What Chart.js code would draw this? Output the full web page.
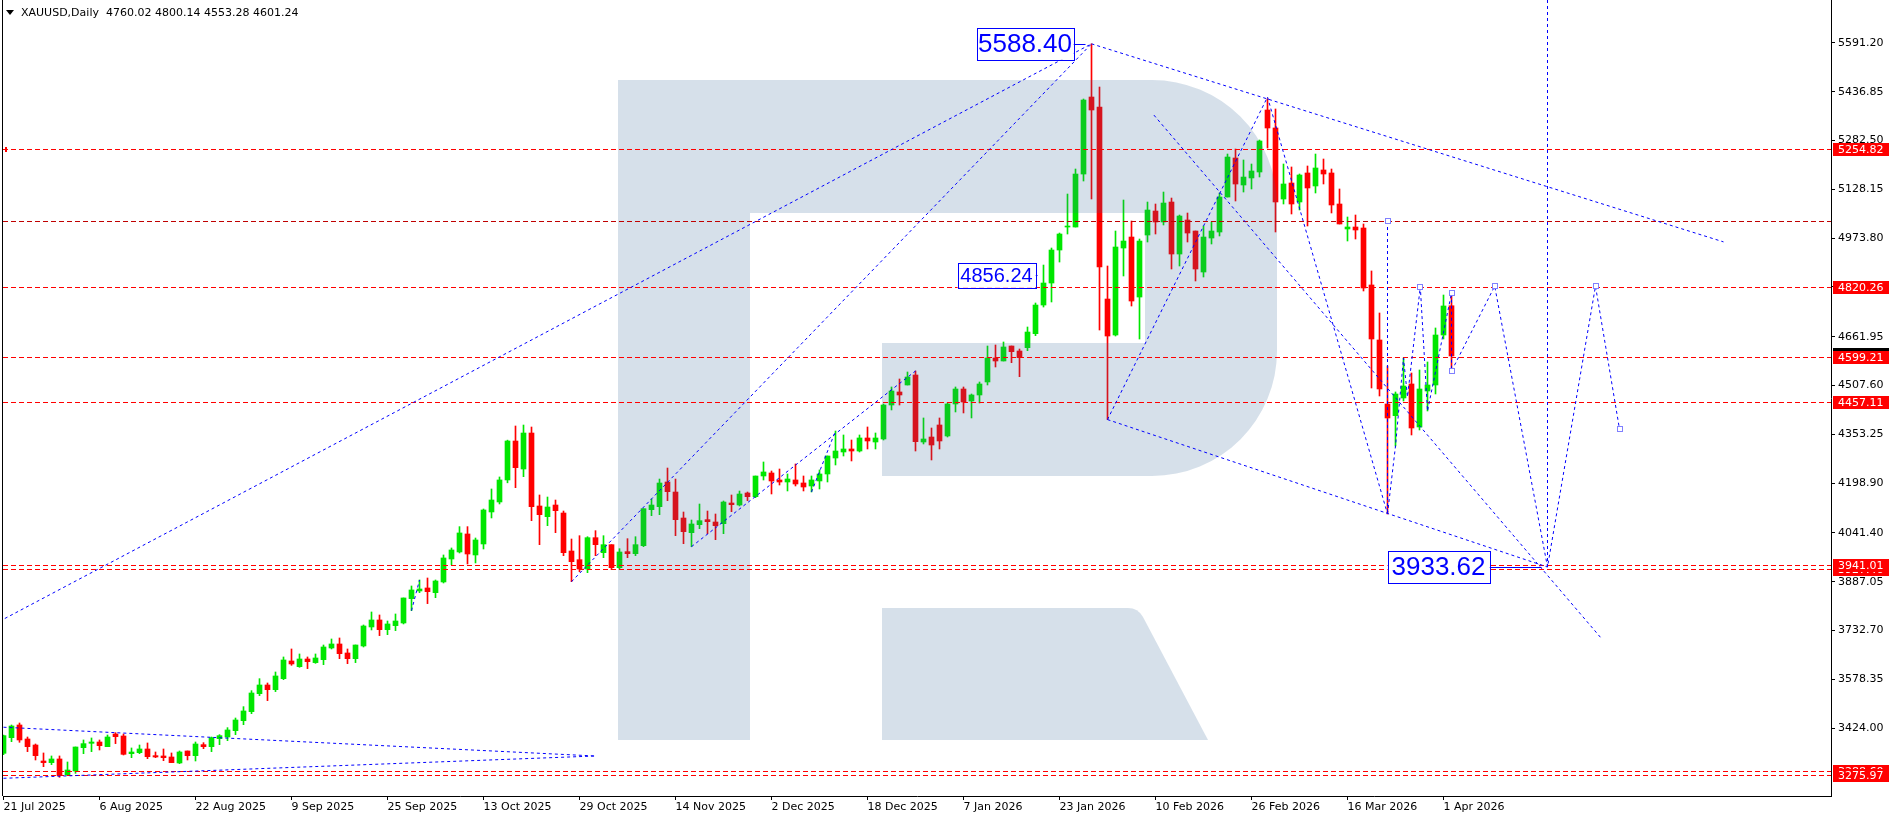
<!DOCTYPE html>
<html><head><meta charset="utf-8">
<script src="https://cdn.jsdelivr.net/npm/chart.js@4.4.1/dist/chart.umd.min.js"></script>
<style>html,body{margin:0;padding:0;background:#fff;overflow:hidden}</style>
</head><body>
<canvas id="c" width="1895" height="820"></canvas>
<script>
// ---------- DATA ----------
const symbolTitle = 'XAUUSD,Daily  4760.02 4800.14 4553.28 4601.24';
const opens = [3344.5,3394.0,3434.1,3389.8,3370.8,3320.2,3315.0,3326.6,3276.0,3288.6,3362.4,3376.1,3380.3,3365.6,3405.6,3399.3,3343.4,3346.6,3358.2,3337.1,3336.1,3332.9,3313.9,3351.9,3337.1,3371.9,3365.6,3390.9,3396.1,3416.2,3447.8,3476.3,3533.2,3560.6,3545.8,3580.6,3636.5,3618.6,3642.8,3631.3,3640.7,3677.6,3690.3,3661.8,3643.9,3684.0,3744.1,3766.2,3735.6,3748.3,3756.7,3833.7,3857.9,3867.4,3852.6,3886.4,3959.1,3981.3,4038.2,3971.8,4006.6,4107.8,4139.4,4209.0,4332.2,4243.7,4357.5,4126.7,4092.9,4129.8,4104.5,3984.3,3956.9,3927.4,4026.5,3979.1,4004.4,3931.6,3982.3,3975.9,4001.2,4115.1,4124.6,4202.6,4170.9,4088.7,4042.3,4067.6,4083.5,4076.1,4070.8,4136.2,4129.8,4167.8,4156.2,4221.6,4231.1,4209.0,4202.6,4209.0,4199.5,4190.0,4205.8,4227.9,4278.5,4297.5,4307.0,4300.6,4341.8,4329.1,4338.6,4446.1,4487.3,4509.4,4541.0,4329.1,4344.9,4382.9,4348.1,4449.3,4496.7,4458.8,4477.8,4518.9,4594.8,4585.3,4632.7,4616.9,4627.5,4671.7,4762.3,4831.9,4936.3,5009.0,5009.0,5176.6,5420.2,5388.5,4781.3,4667.5,4942.6,4977.4,4787.6,4983.7,5059.6,5024.9,5088.1,4923.6,5031.2,4996.4,4866.7,4974.2,4993.2,5103.9,5227.3,5141.9,5164.1,5183.0,5379.1,5322.2,5097.6,5148.2,5088.2,5179.9,5138.8,5189.4,5179.9,5081.8,5002.8,5009.1,5005.9,4825.7,4651.7,4449.3,4412.4,4468.3,4512.6,4376.6,4490.4,4509.4,4667.5,4760.02];
const highs = [3402.0,3434.1,3440.4,3396.1,3374.0,3345.6,3336.1,3336.1,3317.1,3364.5,3386.7,3393.0,3386.7,3402.5,3409.8,3405.6,3361.4,3370.8,3377.2,3348.7,3358.2,3345.6,3351.9,3351.9,3380.3,3378.2,3396.1,3403.5,3425.7,3456.2,3492.1,3542.7,3580.6,3566.9,3601.7,3649.2,3674.5,3658.7,3649.2,3658.7,3687.1,3706.1,3709.3,3674.5,3687.1,3750.4,3791.5,3782.0,3763.0,3785.2,3835.8,3873.7,3892.7,3899.0,3892.7,3971.8,3993.9,4061.4,4061.4,4025.5,4117.2,4180.5,4218.5,4335.0,4379.7,4382.8,4376.5,4161.5,4155.1,4145.6,4110.8,4022.3,4032.8,4029.6,4048.7,4032.8,4004.4,3991.7,4023.4,4029.6,4118.2,4148.8,4212.0,4246.8,4212.0,4107.7,4082.4,4133.0,4110.8,4101.4,4142.5,4161.5,4174.1,4170.9,4221.5,4265.9,4237.4,4243.7,4228.0,4259.6,4221.6,4221.6,4240.6,4284.8,4363.9,4351.3,4335.4,4351.3,4376.6,4357.6,4449.3,4503.1,4528.4,4550.5,4553.7,4405.1,4373.4,4405.1,4452.5,4503.1,4503.1,4480.9,4518.9,4632.7,4635.9,4645.4,4632.7,4623.2,4692.8,4768.7,4888.8,4942.6,4990.0,5113.4,5192.5,5413.9,5588.4,5451.8,4885.7,4996.4,5094.4,5028.0,4971.1,5088.1,5081.8,5119.7,5100.7,5047.0,5053.3,4996.4,5012.2,5024.9,5116.5,5239.9,5255.7,5221.0,5208.3,5284.2,5415.0,5382.3,5208.3,5198.9,5176.7,5202.0,5239.9,5224.1,5192.5,5129.3,5040.7,5047.0,5018.6,4870.0,4737.1,4569.5,4487.3,4594.8,4547.3,4556.8,4582.2,4689.7,4794.0,4800.14];
const lows = [3340.0,3381.4,3379.3,3349.8,3323.4,3302.3,3308.7,3268.6,3273.9,3281.2,3343.4,3349.8,3355.0,3365.6,3375.1,3339.2,3330.8,3343.4,3327.6,3330.8,3321.3,3315.0,3311.8,3323.4,3320.2,3359.2,3349.8,3371.9,3384.5,3403.5,3435.1,3469.9,3526.9,3511.1,3539.6,3577.5,3622.8,3616.5,3612.3,3629.1,3624.9,3674.5,3643.9,3628.1,3631.3,3680.8,3734.6,3716.7,3719.8,3732.5,3753.6,3795.7,3852.6,3817.9,3836.8,3883.2,3941.2,3978.1,3943.3,3946.5,3990.7,4088.8,4133.1,4200.0,4184.6,4219.4,4080.3,4004.4,4064.5,4042.3,3969.6,3887.4,3919.0,3915.8,3969.6,3963.3,3925.3,3927.4,3963.3,3969.6,3998.1,4096.1,4099.3,4143.5,4032.8,4007.5,3998.1,4055.0,4039.1,4020.2,4039.1,4108.7,4126.7,4143.5,4153.0,4208.9,4164.7,4193.1,4174.2,4190.0,4174.2,4171.0,4180.5,4202.6,4256.4,4284.8,4269.1,4297.5,4307.0,4307.0,4335.4,4430.4,4446.1,4509.4,4300.6,4322.8,4272.2,4307.0,4344.9,4424.0,4420.9,4405.1,4452.5,4509.4,4566.3,4585.3,4580.0,4535.7,4617.9,4665.4,4756.0,4771.9,4898.3,4986.9,5009.0,5154.5,5097.6,4683.3,4400.0,4664.3,4854.1,4759.2,4654.8,4961.6,4986.9,5015.4,4876.2,4885.7,4961.6,4838.3,4850.9,4955.3,4980.6,5103.9,5091.3,5119.7,5129.3,5167.2,5258.9,4993.3,5081.8,5050.2,5062.9,5012.3,5116.6,5145.1,5053.4,5018.6,4964.8,4971.1,4806.7,4499.9,4474.6,4101.4,4316.5,4458.8,4351.3,4367.1,4427.2,4481.0,4654.9,4553.28];
const closes = [3400.4,3430.9,3386.7,3365.6,3337.1,3315.0,3326.6,3273.9,3291.8,3364.5,3375.1,3380.3,3368.7,3396.1,3397.2,3341.3,3348.7,3358.2,3333.9,3332.9,3330.8,3315.0,3348.7,3337.1,3374.0,3365.6,3394.0,3400.4,3418.3,3449.9,3478.4,3535.3,3560.6,3545.8,3589.1,3639.7,3627.1,3642.8,3634.4,3646.0,3680.8,3690.3,3659.7,3643.9,3687.1,3747.2,3766.2,3735.6,3753.6,3763.0,3835.8,3861.1,3864.2,3855.8,3889.5,3962.3,3987.6,4041.4,3974.9,4019.2,4114.1,4145.7,4209.0,4332.3,4247.9,4357.5,4124.6,4099.3,4123.5,4111.9,3979.1,3950.6,3927.4,4026.5,4004.4,4004.4,3931.6,3981.2,3975.9,4004.4,4118.2,4129.8,4199.4,4172.0,4083.5,4045.5,4069.8,4080.3,4077.2,4064.5,4139.3,4130.9,4164.6,4156.2,4221.5,4234.3,4205.8,4202.6,4212.1,4196.3,4186.8,4209.0,4227.9,4284.8,4300.6,4307.0,4300.6,4341.8,4332.3,4341.8,4446.1,4490.4,4477.8,4534.7,4330.2,4338.6,4319.6,4332.3,4449.3,4496.7,4455.6,4477.8,4512.6,4594.8,4585.3,4629.6,4614.8,4595.8,4676.9,4762.3,4831.9,4936.3,4986.9,5012.2,5176.6,5410.7,5379.1,4882.5,4664.3,4945.8,4964.7,4775.0,4964.7,5062.8,5024.9,5084.9,4923.6,5043.8,4990.0,4876.2,4977.4,4996.4,5103.9,5230.4,5145.0,5167.1,5186.2,5281.1,5322.2,5088.2,5145.1,5081.8,5173.5,5132.5,5195.7,5176.7,5078.7,5018.6,5009.1,4999.6,4816.2,4654.9,4496.8,4405.1,4480.9,4506.2,4373.4,4496.7,4509.4,4667.5,4759.3,4601.24];

const xTickBars = [0,12,24,36,48,60,72,84,96,108,120,132,144,156,168,180];
const xTickLabels = ['21 Jul 2025','6 Aug 2025','22 Aug 2025','9 Sep 2025','25 Sep 2025','13 Oct 2025','29 Oct 2025','14 Nov 2025','2 Dec 2025','18 Dec 2025','7 Jan 2026','23 Jan 2026','10 Feb 2026','26 Feb 2026','16 Mar 2026','1 Apr 2026'];
const yTickValues = [5591.20,5436.85,5282.50,5128.15,4973.80,4819.45,4661.95,4507.60,4353.25,4198.90,4041.40,3887.05,3732.70,3578.35,3424.00];

// horizontal levels
const levelPrices = [5254.82,5028.00,4820.26,4599.21,4457.11,3941.01,3927.46,3288.60,3275.97];
const levelLabelled = [true,false,true,true,true,true,true,true,true];
const bidPrice = 4601.24;

// trend lines [bar1, price1, bar2, price2]
const trendLines = [
  [-0.5,3762,136,5588.40],
  [136,5588.40,215,4962],
  [71,3887.4,136,5588.40],
  [86,3998.1,114,4553.7],
  [101,4171.0,104,4363.9],
  [51,3795.7,52,3892.7],
  [0,3427,74,3336],
  [0,3265.5,74,3336],
  [138,4400.0,158,5420],
  [138,4400.0,193,3933.62],
  [158,5420,173,4101.4],
  [143.8,5363,199.7,3709],
  [173,5028,173,4101.4],
  [193,5727,193,3933.62]
];
// forecast zig-zag [bar, price]
const forecastPath = [[173,4101.4],[174,4316.5],[175,4594.8],[175.5,4472],[177.1,4820],[178,4427.2],[181,4800.1],[181,4553.3],[186.4,4822],[193,3933.62],[199,4822],[202,4370]];
const markerPoints = [[173,5028],[177.1,4820],[186.4,4822],[199,4822],[202,4370],[181,4800.1],[181,4553.3]];
// value tags
const tagBars = [136,130,193];
const tagPrices = [5588.40,4856.24,3933.62];
const tagTexts = ['5588.40','4856.24','3933.62'];

// ---------- STYLE ----------
const GREEN = '#00e600', RED = '#ff0000', BLUE = '#0000ff';
const FONT = '"DejaVu Sans", sans-serif';
const candleColors = closes.map((c,i)=> c>=opens[i] ? GREEN : RED);

const wickData = highs.map((h,i)=>({x:i, y:[lows[i], h]}));
const bodyData = opens.map((o,i)=>({x:i, y:[Math.min(o,closes[i]), Math.max(o,closes[i])]}));

function line(ctx, x1,y1,x2,y2){ctx.beginPath();ctx.moveTo(x1,y1);ctx.lineTo(x2,y2);ctx.stroke();}

const watermark = {
  id:'watermark',
  afterDatasetsDraw(chart){
    const ctx = chart.ctx; ctx.save();
    ctx.fillStyle = 'rgba(50,100,150,0.2)';
    const r = 125;
    ctx.beginPath();
    ctx.moveTo(618,80); ctx.lineTo(1277-r,80);
    ctx.arcTo(1277,80,1277,80+r,r);
    ctx.lineTo(1277,476-r);
    ctx.arcTo(1277,476,1277-r,476,r);
    ctx.lineTo(882,476); ctx.lineTo(882,343); ctx.lineTo(1145,343); ctx.lineTo(1145,213);
    ctx.lineTo(750,213); ctx.lineTo(750,740); ctx.lineTo(618,740); ctx.closePath();
    ctx.fill();
    ctx.beginPath();
    ctx.moveTo(882,608); ctx.lineTo(1128,608); ctx.quadraticCurveTo(1138,608,1143,617);
    ctx.lineTo(1208,740); ctx.lineTo(882,740); ctx.closePath(); ctx.fill();
    ctx.restore();
  }
};

const overlay = {
  id:'overlay',
  afterDatasetsDraw(chart){
    const {ctx, chartArea:a, scales:{x,y}} = chart;
    ctx.save();
    ctx.beginPath(); ctx.rect(a.left, a.top, a.right-a.left, a.bottom-a.top); ctx.clip();
    ctx.lineWidth = 1; ctx.setLineDash([5,3]);
    levelPrices.forEach((p,i)=>{
      const yy = Math.round(y.getPixelForValue(p)) + 0.5;
      ctx.strokeStyle = i===1 ? '#c00000' : RED;
      line(ctx, a.left, yy, a.right, yy);
    });
    ctx.setLineDash([]); ctx.fillStyle = RED;
    ctx.fillRect(5, Math.round(y.getPixelForValue(levelPrices[0]))-2, 2, 5);
    ctx.strokeStyle = BLUE; ctx.setLineDash([3,3]);
    trendLines.forEach(t=>{
      line(ctx, x.getPixelForValue(t[0]), y.getPixelForValue(t[1]), x.getPixelForValue(t[2]), y.getPixelForValue(t[3]));
    });
    ctx.beginPath();
    forecastPath.forEach((p,i)=>{
      const px = x.getPixelForValue(p[0]), py = y.getPixelForValue(p[1]);
      if(i===0) ctx.moveTo(px,py); else ctx.lineTo(px,py);
    });
    ctx.stroke();
    ctx.setLineDash([1,1]);
    markerPoints.forEach(p=>{
      const px = Math.round(x.getPixelForValue(p[0])), py = Math.round(y.getPixelForValue(p[1]));
      ctx.fillStyle = '#fff'; ctx.fillRect(px-3, py-3, 6, 6);
      ctx.strokeRect(px-2.5, py-2.5, 5, 5);
    });
    ctx.setLineDash([]);
    // value tags
    const sizes = [26,20,26];
    const widths = [97,78,102];
    const heights = [32,25,32];
    const gaps = [18,8,58];
    tagBars.forEach((b,i)=>{
      const px = x.getPixelForValue(b), py = y.getPixelForValue(tagPrices[i]);
      const right = px - gaps[i], w = widths[i], h = heights[i];
      const top = py - h/2;
      ctx.strokeStyle = BLUE; ctx.lineWidth = 1;
      line(ctx, right, Math.round(py)+0.5, px - 6, Math.round(py)+0.5);
      ctx.fillStyle = '#fff';
      ctx.fillRect(right-w, top, w, h);
      ctx.strokeRect(Math.round(right-w)+0.5, Math.round(top)+0.5, w, h);
      ctx.fillStyle = BLUE; ctx.font = sizes[i]+'px "Liberation Sans", sans-serif';
      ctx.textAlign = 'center'; ctx.textBaseline = 'middle';
      ctx.fillText(tagTexts[i], right - w/2, py + 1);
    });
    ctx.restore();

    // axis price labels
    ctx.save();
    ctx.font = '11px ' + FONT; ctx.textBaseline = 'middle'; ctx.textAlign = 'left';
    const by = y.getPixelForValue(bidPrice);
    ctx.fillStyle = '#000'; ctx.fillRect(a.right+2, Math.round(by)-8, 56, 15);
    const order = [0,2,4,3,6,5,7,8];
    order.forEach(i=>{
      if(!levelLabelled[i]) return;
      const yy = Math.round(y.getPixelForValue(levelPrices[i]));
      ctx.fillStyle = RED; ctx.fillRect(a.right+2, yy-6, 56, 13);
      ctx.fillStyle = '#fff'; ctx.fillText(levelPrices[i].toFixed(2), a.right+7, yy+1);
    });
    ctx.strokeStyle = '#000'; ctx.lineWidth = 1;
    line(ctx, 2.5, 0, 2.5, a.bottom);
    ctx.fillStyle = '#000';
    ctx.beginPath(); ctx.moveTo(6,10); ctx.lineTo(14,10); ctx.lineTo(10,15); ctx.closePath(); ctx.fill();
    ctx.fillText(symbolTitle, 21, 13);
    ctx.restore();
  }
};

new Chart(document.getElementById('c'), {
  type:'bar',
  data:{datasets:[
    {data:wickData, backgroundColor:candleColors, barThickness:1, grouped:false, borderWidth:0, order:2},
    {data:bodyData, backgroundColor:candleColors, barThickness:5, grouped:false, borderWidth:0, minBarLength:1, order:1}
  ]},
  options:{
    responsive:false, animation:false, devicePixelRatio:1, events:[],
    layout:{padding:{left:3,right:0,top:0,bottom:0}},
    plugins:{legend:{display:false}, tooltip:{enabled:false}},
    scales:{
      x:{type:'linear', offset:false, min:-0.0625, max:228.4375,
         grid:{display:true, drawOnChartArea:false, drawTicks:true, tickLength:4, color:'#000', offset:false},
         border:{display:true, color:'#000'},
         ticks:{autoSkip:false, maxRotation:0, align:'start', padding:1, color:'#000', font:{family:FONT, size:11},
                callback:(v)=>{const k = xTickBars.indexOf(v); return k>=0 ? xTickLabels[k] : '';}},
         afterBuildTicks:(s)=>{s.ticks = xTickBars.map(v=>({value:v}));},
         afterFit:(s)=>{s.height = 24; s.paddingLeft = 0; s.paddingRight = 0;}
      },
      y:{type:'linear', position:'right', min:3209.5, max:5727.0,
         grid:{display:true, drawOnChartArea:false, drawTicks:true, tickLength:4, color:'#000'},
         border:{display:true, color:'#000'},
         ticks:{padding:3, color:'#000', font:{family:FONT, size:11}, callback:(v)=>Number(v).toFixed(2)},
         afterBuildTicks:(s)=>{s.ticks = yTickValues.map(v=>({value:v}));},
         afterFit:(s)=>{s.width = 64; s.paddingTop = 0; s.paddingBottom = 0;}
      }
    }
  },
  plugins:[watermark, overlay]
});
</script>
</body></html>
